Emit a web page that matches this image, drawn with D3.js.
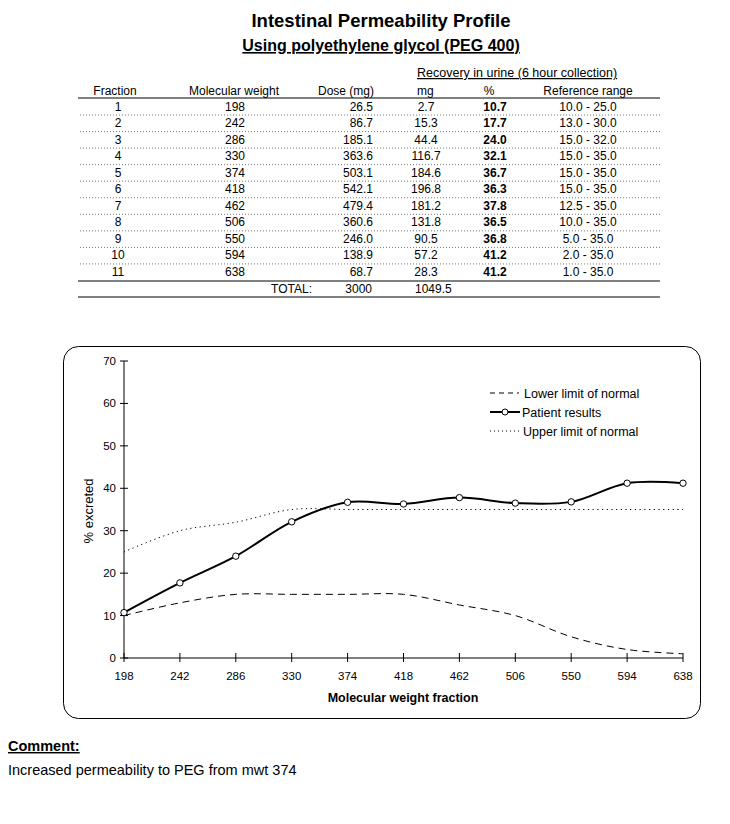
<!DOCTYPE html>
<html><head><meta charset="utf-8">
<script src="https://cdn.jsdelivr.net/npm/d3@7"></script>
<style>
body{margin:0;background:#fff;}
svg text{font-family:"Liberation Sans",Arial,sans-serif;fill:#000;}
</style></head>
<body><svg id="c" width="730" height="824"></svg>
<script>
const fractions = [1,2,3,4,5,6,7,8,9,10,11];
const molWeights = [198,242,286,330,374,418,462,506,550,594,638];
const doseMg = ["26.5","86.7","185.1","363.6","503.1","542.1","479.4","360.6","246.0","138.9","68.7"];
const recoveryMg = ["2.7","15.3","44.4","116.7","184.6","196.8","181.2","131.8","90.5","57.2","28.3"];
const patientPct = [10.7,17.7,24.0,32.1,36.7,36.3,37.8,36.5,36.8,41.2,41.2];
const lowerLimit = [10.0,13.0,15.0,15.0,15.0,15.0,12.5,10.0,5.0,2.0,1.0];
const upperLimit = [25.0,30.0,32.0,35.0,35.0,35.0,35.0,35.0,35.0,35.0,35.0];
const totalDose = "3000";
const totalMg = "1049.5";
const yTicks = [0,10,20,30,40,50,60,70];

const svg = d3.select("#c");
const fmt1 = d => d.toFixed(1);

// Titles
svg.append("text").attr("x",381).attr("y",27).attr("text-anchor","middle")
  .attr("font-size",18.5).attr("font-weight","bold").text("Intestinal Permeability Profile");
svg.append("text").attr("x",381).attr("y",51).attr("text-anchor","middle")
  .attr("font-size",16).attr("font-weight","bold").attr("text-decoration","underline")
  .text("Using polyethylene glycol (PEG 400)");

// Table
const t = svg.append("g").attr("font-size",12);
t.append("text").attr("x",417).attr("y",77).attr("font-size",12.5).attr("text-decoration","underline")
  .text("Recovery in urine (6 hour collection)");
const hy = 95;
t.append("text").attr("x",115).attr("y",hy).attr("text-anchor","middle").text("Fraction");
t.append("text").attr("x",234).attr("y",hy).attr("text-anchor","middle").text("Molecular weight");
t.append("text").attr("x",374).attr("y",hy).attr("text-anchor","end").text("Dose (mg)");
t.append("text").attr("x",417).attr("y",hy).text("mg");
t.append("text").attr("x",489).attr("y",hy).attr("text-anchor","middle").text("%");
t.append("text").attr("x",588).attr("y",hy).attr("text-anchor","middle").text("Reference range");
t.append("line").attr("x1",78).attr("x2",660).attr("y1",98).attr("y2",98).attr("stroke","#000").attr("stroke-width",1);

const rowY = d3.scaleLinear().domain([0,10]).range([110.5,276]);
fractions.forEach((f,i)=>{
  const y = rowY(i);
  t.append("text").attr("x",118).attr("y",y).attr("text-anchor","middle").text(f);
  t.append("text").attr("x",235).attr("y",y).attr("text-anchor","middle").text(molWeights[i]);
  t.append("text").attr("x",373).attr("y",y).attr("text-anchor","end").text(doseMg[i]);
  t.append("text").attr("x",426).attr("y",y).attr("text-anchor","middle").text(recoveryMg[i]);
  t.append("text").attr("x",495).attr("y",y).attr("text-anchor","middle").attr("font-weight","bold").text(fmt1(patientPct[i]));
  t.append("text").attr("x",588).attr("y",y).attr("text-anchor","middle").text(fmt1(lowerLimit[i])+" - "+fmt1(upperLimit[i]));
  if(i<10){
    t.append("line").attr("x1",80).attr("x2",660).attr("y1",y+4.5).attr("y2",y+4.5)
     .attr("stroke","#555").attr("stroke-width",0.8).attr("stroke-dasharray","1,2");
  }
});
t.append("line").attr("x1",78).attr("x2",660).attr("y1",281).attr("y2",281).attr("stroke","#000");
t.append("text").attr("x",312).attr("y",293).attr("text-anchor","end").text("TOTAL:");
t.append("text").attr("x",372).attr("y",293).attr("text-anchor","end").text(totalDose);
t.append("text").attr("x",415).attr("y",293).text(totalMg);
t.append("line").attr("x1",78).attr("x2",660).attr("y1",297).attr("y2",297).attr("stroke","#000");

// Chart frame
svg.append("rect").attr("x",63.5).attr("y",346.5).attr("width",637).attr("height",372)
  .attr("rx",15).attr("fill","none").attr("stroke","#000").attr("stroke-width",1);

const x = d3.scalePoint().domain(molWeights).range([124,683]);
const y = d3.scaleLinear().domain([0,70]).range([658,361]);

const g = svg.append("g");
// y axis
g.append("line").attr("x1",124).attr("x2",124).attr("y1",y(70)).attr("y2",y(0)).attr("stroke","#000");
yTicks.forEach(v=>{
  g.append("line").attr("x1",120).attr("x2",128).attr("y1",y(v)).attr("y2",y(v)).attr("stroke","#000");
  g.append("text").attr("x",116).attr("y",y(v)+4).attr("text-anchor","end").attr("font-size",11.5).text(v);
});
// x axis
g.append("line").attr("x1",124).attr("x2",683).attr("y1",y(0)).attr("y2",y(0)).attr("stroke","#000");
molWeights.forEach(m=>{
  g.append("line").attr("x1",x(m)).attr("x2",x(m)).attr("y1",y(0)-5).attr("y2",y(0)+4).attr("stroke","#000");
  g.append("text").attr("x",x(m)).attr("y",680).attr("text-anchor","middle").attr("font-size",11.5).text(m);
});
g.append("text").attr("x",403).attr("y",702).attr("text-anchor","middle").attr("font-size",12.5)
  .attr("font-weight","bold").text("Molecular weight fraction");
g.append("text").attr("transform","translate(93,511) rotate(-90)").attr("text-anchor","middle")
  .attr("font-size",13).text("% excreted");

const line = d3.line().x((d,i)=>x(molWeights[i])).y(d=>y(d)).curve(d3.curveCatmullRom.alpha(0.5));
g.append("path").attr("d",line(upperLimit)).attr("fill","none").attr("stroke","#000")
  .attr("stroke-width",1).attr("stroke-dasharray","1.2,3.5");
g.append("path").attr("d",line(lowerLimit)).attr("fill","none").attr("stroke","#000")
  .attr("stroke-width",1).attr("stroke-dasharray","7,5");
g.append("path").attr("d",line(patientPct)).attr("fill","none").attr("stroke","#000")
  .attr("stroke-width",2);
g.selectAll("circle.p").data(patientPct).enter().append("circle")
  .attr("cx",(d,i)=>x(molWeights[i])).attr("cy",d=>y(d)).attr("r",3.2)
  .attr("fill","#fff").attr("stroke","#000").attr("stroke-width",1);

// Legend
const lg = svg.append("g").attr("font-size",12.5);
lg.append("line").attr("x1",490).attr("x2",519).attr("y1",393).attr("y2",393).attr("stroke","#000").attr("stroke-dasharray","5,4");
lg.append("text").attr("x",524).attr("y",397.5).text("Lower limit of normal");
lg.append("line").attr("x1",490).attr("x2",520).attr("y1",412).attr("y2",412).attr("stroke","#000").attr("stroke-width",2);
lg.append("circle").attr("cx",505).attr("cy",412).attr("r",3).attr("fill","#fff").attr("stroke","#000");
lg.append("text").attr("x",522).attr("y",416.5).text("Patient results");
lg.append("line").attr("x1",490).attr("x2",520).attr("y1",431).attr("y2",431).attr("stroke","#000").attr("stroke-dasharray","1,3");
lg.append("text").attr("x",523).attr("y",435.5).text("Upper limit of normal");

// Comment
svg.append("text").attr("x",8).attr("y",751).attr("font-size",14.5).attr("font-weight","bold")
  .attr("text-decoration","underline").text("Comment:");
svg.append("text").attr("x",8).attr("y",775).attr("font-size",14.5)
  .text("Increased permeability to PEG from mwt 374");
</script></body></html>
